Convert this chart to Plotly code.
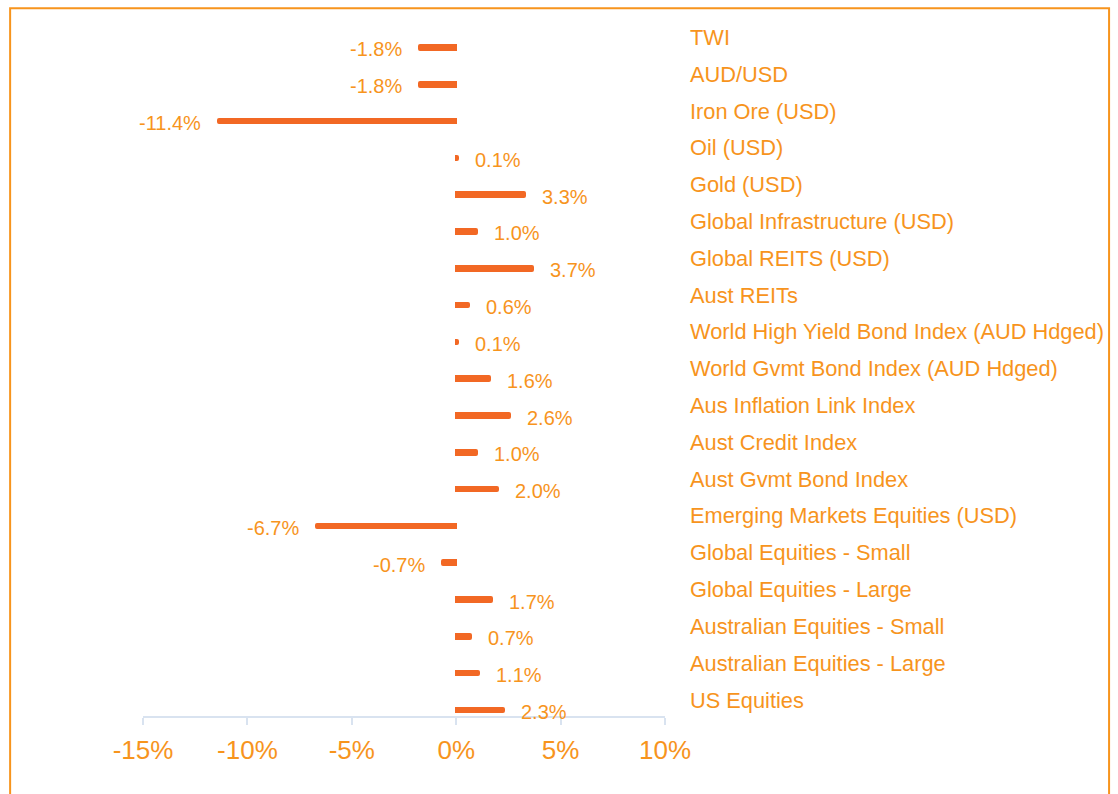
import plotly.graph_objects as go

categories = [
    "TWI", "AUD/USD", "Iron Ore (USD)", "Oil (USD)", "Gold (USD)",
    "Global Infrastructure (USD)", "Global REITS (USD)", "Aust REITs",
    "World High Yield Bond Index (AUD Hdged)", "World Gvmt Bond Index (AUD Hdged)",
    "Aus Inflation Link Index", "Aust Credit Index", "Aust Gvmt Bond Index",
    "Emerging Markets Equities (USD)", "Global Equities - Small",
    "Global Equities - Large", "Australian Equities - Small",
    "Australian Equities - Large", "US Equities",
]
values = [-1.8, -1.8, -11.4, 0.1, 3.3, 1.0, 3.7, 0.6, 0.1, 1.6, 2.6, 1.0, 2.0,
          -6.7, -0.7, 1.7, 0.7, 1.1, 2.3]
tick_vals = [-15, -10, -5, 0, 5, 10]
tick_text = ["-15%", "-10%", "-5%", "0%", "5%", "10%"]

BAR = "#F26824"
TXT = "#F7941D"
AXIS = "#D9E3F0"
FONT = "Liberation Sans, Arial, sans-serif"

W, H = 1118, 794
L, R = 142.5, 665.0
B = 716.0
row = 36.83
n = len(categories)
y_bottom = (n - 1) + 6.0 / row
y_top = -0.5
T = B - (y_bottom - y_top) * row

fig = go.Figure()
fig.add_trace(go.Bar(
    x=values, y=categories, orientation="h",
    marker=dict(color=BAR, line=dict(width=2, color=BAR), cornerradius=1),
    width=0.125, hoverinfo="skip",
))

annotations = []
for c, v in zip(categories, values):
    annotations.append(dict(
        x=v, y=c, xref="x", yref="y",
        text=f"{v:.1f}%", showarrow=False,
        xanchor="left" if v >= 0 else "right",
        xshift=15 if v >= 0 else -15, yshift=-2,
        font=dict(family=FONT, size=20, color=TXT),
    ))
    annotations.append(dict(
        x=(688 - L) / (R - L), y=c, xref="paper", yref="y",
        text=c, showarrow=False, xanchor="left", yshift=10,
        font=dict(family=FONT, size=21.8, color=TXT),
    ))

def px_to_paper_x(px):
    return (px - L) / (R - L)

def px_to_paper_y(py):
    return (B - py) / (B - T)

fig.update_layout(
    width=W, height=H,
    margin=dict(l=L, r=W - R, t=T, b=H - B, pad=0),
    paper_bgcolor="white", plot_bgcolor="white",
    showlegend=False,
    annotations=annotations,
    shapes=[dict(
        type="rect", xref="paper", yref="paper",
        x0=px_to_paper_x(9.5), x1=px_to_paper_x(1109.5),
        y0=px_to_paper_y(810), y1=px_to_paper_y(8.0),
        line=dict(color=TXT, width=2), fillcolor="rgba(0,0,0,0)",
    )],
    xaxis=dict(
        range=[-15, 10], tickvals=tick_vals, ticktext=tick_text,
        showgrid=False, zeroline=False,
        showline=True, linecolor=AXIS, linewidth=2,
        ticks="outside", ticklen=7, tickwidth=2, tickcolor=AXIS,
        ticklabelstandoff=3,
        tickfont=dict(family=FONT, size=26, color=TXT),
        fixedrange=True,
    ),
    yaxis=dict(
        range=[y_bottom, y_top], showticklabels=False, showgrid=False,
        zeroline=False, showline=False, ticks="", fixedrange=True,
    ),
    bargap=0,
)

fig.write_html("out.html", config={"displayModeBar": False})
